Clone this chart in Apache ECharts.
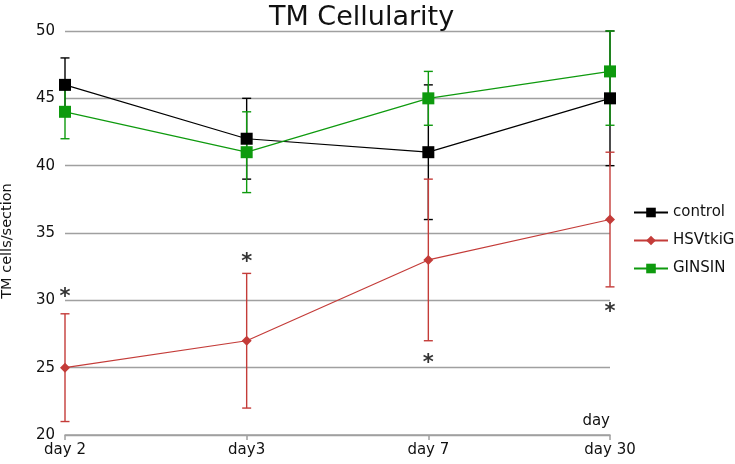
<!DOCTYPE html>
<html><head><meta charset="utf-8">
<script src="https://cdn.jsdelivr.net/npm/echarts@6/dist/echarts.min.js"></script>
<style>html,body{margin:0;padding:0;background:#fff}#c{width:735px;height:464px}</style>
</head><body><div id="c"></div>
<script>
const categories = ['day 2', 'day3', 'day 7', 'day 30'];
const controlVals = [46, 42, 41, 45];
const controlLow = [44, 39, 36, 40];
const controlHigh = [48, 45, 46, 50];
const hsvVals = [25, 27, 33, 36];
const hsvLow = [21, 22, 27, 31];
const hsvHigh = [29, 32, 39, 41];
const ginsinVals = [44, 41, 45, 47];
const ginsinLow = [42, 38, 43, 43];
const ginsinHigh = [46, 44, 47, 50];
const starVals = [30.2, 32.8, 25.3, 29.1];
const yTicks = { min: 20, max: 50, interval: 5 };

const FONT = 'DejaVu Sans';
const cBlack = '#000000', cRed = '#c43c39', cGreen = '#0e9a0e';

function errData(low, high) { return low.map((l, i) => [i, l, high[i]]); }
function errRender(color) {
  return function (params, api) {
    const lo = api.coord([api.value(0), api.value(1)]);
    const hi = api.coord([api.value(0), api.value(2)]);
    const hw = 4.5;
    const st = { stroke: color, lineWidth: 1.4 };
    return { type: 'group', children: [
      { type: 'line', shape: { x1: lo[0], y1: lo[1], x2: hi[0], y2: hi[1] }, style: st },
      { type: 'line', shape: { x1: lo[0] - hw, y1: lo[1], x2: lo[0] + hw, y2: lo[1] }, style: st },
      { type: 'line', shape: { x1: hi[0] - hw, y1: hi[1], x2: hi[0] + hw, y2: hi[1] }, style: st }
    ]};
  };
}

const chart = echarts.init(document.getElementById('c'), null, { renderer: 'canvas' });
chart.setOption({
  animation: false,
  textStyle: { fontFamily: FONT },
  title: { text: 'TM Cellularity', left: 264, top: -1,
    textStyle: { fontFamily: FONT, fontSize: 27, fontWeight: 'normal', color: '#111' } },
  legend: {
    orient: 'vertical', left: 628, top: 200, itemWidth: 34, itemHeight: 12, itemGap: 13,
    textStyle: { fontFamily: FONT, fontSize: 15, color: '#111' },
    data: ['control', 'HSVtkiG', 'GINSIN']
  },
  grid: { left: 65, right: 125, top: 31, bottom: 29, containLabel: false, outerBoundsMode: 'none' },
  xAxis: {
    type: 'category', data: categories, boundaryGap: false,
    name: 'day', nameLocation: 'end', nameGap: 0,
    nameTextStyle: { fontFamily: FONT, fontSize: 15, color: '#111', align: 'right', verticalAlign: 'bottom', padding: [0, 0, 6, 0] },
    axisLine: { lineStyle: { color: '#a0a0a0', width: 1.5 } },
    axisTick: { show: true, length: 5, alignWithLabel: true, lineStyle: { color: '#a0a0a0', width: 1.5 } },
    axisLabel: { fontFamily: FONT, fontSize: 15, color: '#111', margin: 8 },
    splitLine: { show: false }
  },
  yAxis: {
    type: 'value', min: yTicks.min, max: yTicks.max, interval: yTicks.interval,
    name: 'TM cells/section', nameLocation: 'middle', nameGap: 50, nameRotate: 90,
    nameTextStyle: { fontFamily: FONT, fontSize: 14.5, color: '#111', padding: [0, 16, 0, 0] },
    axisLine: { show: false }, axisTick: { show: false },
    axisLabel: { fontFamily: FONT, fontSize: 15, color: '#111', margin: 10 },
    splitLine: { lineStyle: { color: '#a0a0a0', width: 1.4 } }
  },
  series: [
    { type: 'custom', name: 'controlErr', renderItem: errRender(cBlack), data: errData(controlLow, controlHigh), encode: { x: 0, y: [1, 2] }, z: 1, silent: true },
    { type: 'custom', name: 'hsvErr', renderItem: errRender(cRed), data: errData(hsvLow, hsvHigh), encode: { x: 0, y: [1, 2] }, z: 1, silent: true },
    { type: 'custom', name: 'ginsinErr', renderItem: errRender(cGreen), data: errData(ginsinLow, ginsinHigh), encode: { x: 0, y: [1, 2] }, z: 1, silent: true },
    { type: 'line', name: 'control', data: controlVals, color: cBlack, symbol: 'rect', symbolSize: 12,
      lineStyle: { width: 1.2, color: cBlack }, itemStyle: { color: cBlack }, z: 3 },
    { type: 'line', name: 'HSVtkiG', data: hsvVals, color: cRed, symbol: 'diamond', symbolSize: 10,
      lineStyle: { width: 1.2, color: cRed }, itemStyle: { color: cRed }, z: 3 },
    { type: 'line', name: 'GINSIN', data: ginsinVals, color: cGreen, symbol: 'rect', symbolSize: 12,
      lineStyle: { width: 1.2, color: cGreen }, itemStyle: { color: cGreen }, z: 3 },
    { type: 'scatter', name: 'stars', data: starVals.map((v, i) => [i, v]), symbolSize: 1,
      itemStyle: { color: 'rgba(0,0,0,0)' }, z: 4, silent: true,
      label: { show: true, position: 'inside', formatter: '*', fontFamily: FONT, fontSize: 21, fontWeight: 'bold', color: '#000' } }
  ]
});
</script>
</body></html>
